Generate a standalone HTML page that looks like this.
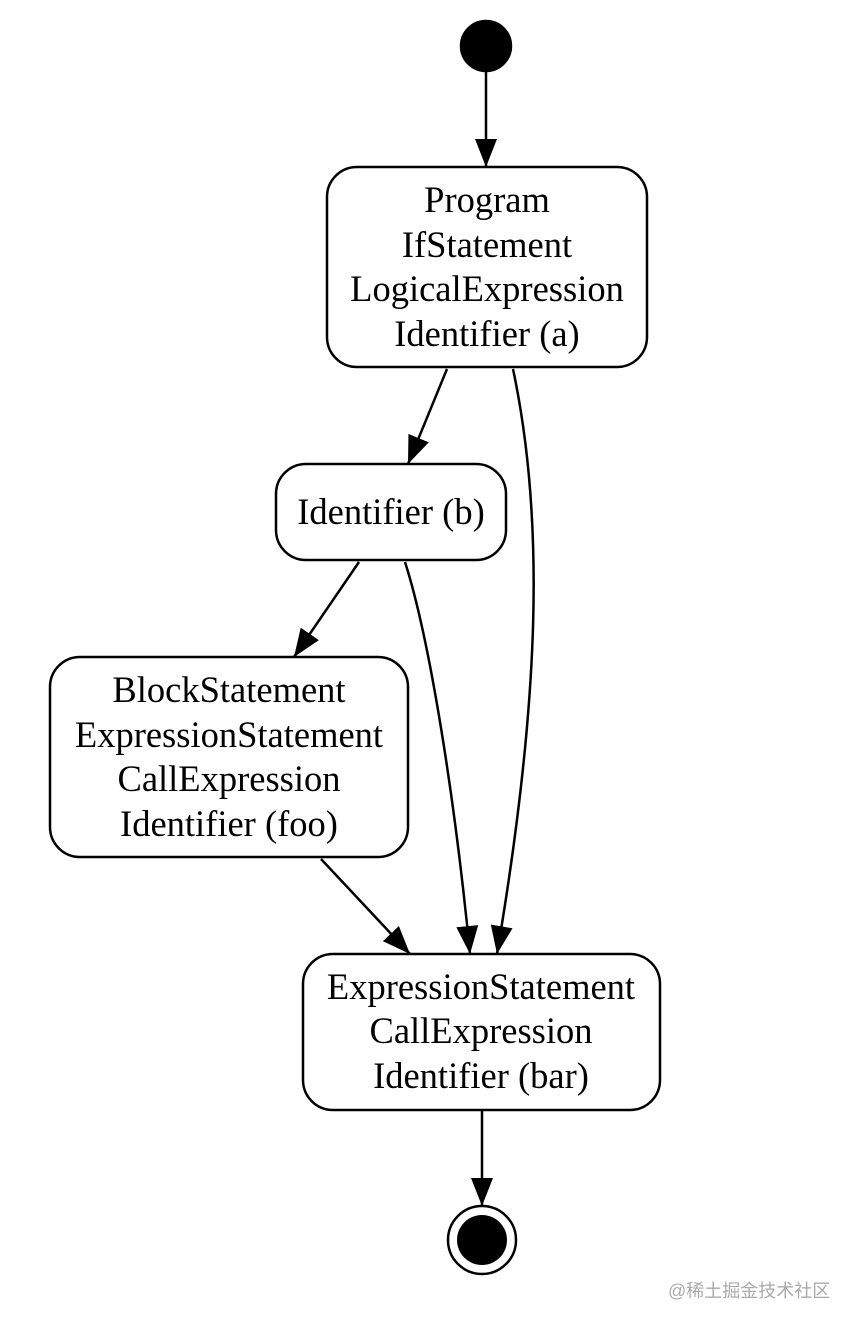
<!DOCTYPE html>
<html><head><meta charset="utf-8"><style>
html,body{margin:0;padding:0;background:#fff;}
svg text{font-family:"Liberation Serif",serif;font-size:36.5px;fill:#000;}
</style></head><body>
<svg width="856" height="1328" viewBox="0 0 856 1328" xmlns="http://www.w3.org/2000/svg">
<defs>
<marker id="a" markerWidth="30" markerHeight="24" refX="28" refY="11" orient="auto" markerUnits="userSpaceOnUse">
<path d="M0,0 L28,11 L0,22 Z" fill="#000"/>
</marker>
</defs>
<g fill="none" stroke="#000" stroke-width="2.5">
<circle cx="486" cy="46" r="25" fill="#000"/>
<line x1="486" y1="71" x2="486" y2="167" marker-end="url(#a)"/>
<rect x="327" y="167" width="320" height="200" rx="30" fill="#fff"/>
<line x1="447" y1="369" x2="408" y2="464" marker-end="url(#a)"/>
<path d="M513,369 C545,520 540,700 497,954" marker-end="url(#a)"/>
<rect x="276" y="464" width="230" height="96" rx="30" fill="#fff"/>
<line x1="359" y1="562" x2="294" y2="657" marker-end="url(#a)"/>
<path d="M405,562 C430,640 455,800 470,954" marker-end="url(#a)"/>
<rect x="50" y="657" width="358" height="200" rx="30" fill="#fff"/>
<line x1="321" y1="859" x2="410" y2="954" marker-end="url(#a)"/>
<rect x="303" y="954" width="357" height="156" rx="30" fill="#fff"/>
<line x1="482" y1="1110" x2="482" y2="1206" marker-end="url(#a)"/>
<circle cx="482" cy="1240" r="34" fill="#fff"/>
<circle cx="482" cy="1240" r="25" fill="#000" stroke="none"/>
</g>
<g text-anchor="middle">
<text x="487" y="212">Program</text>
<text x="487" y="257">IfStatement</text>
<text x="487" y="301">LogicalExpression</text>
<text x="487" y="346">Identifier (a)</text>
<text x="391" y="524">Identifier (b)</text>
<text x="229" y="702">BlockStatement</text>
<text x="229" y="747">ExpressionStatement</text>
<text x="229" y="791">CallExpression</text>
<text x="229" y="836">Identifier (foo)</text>
<text x="481" y="999">ExpressionStatement</text>
<text x="481" y="1043">CallExpression</text>
<text x="481" y="1088">Identifier (bar)</text>
</g>
<text x="668" y="1297" style="font-family:'Liberation Sans','Noto Sans CJK SC',sans-serif;font-size:18px;fill:#aaa;">@稀土掘金技术社区</text>
</svg>
</body></html>
